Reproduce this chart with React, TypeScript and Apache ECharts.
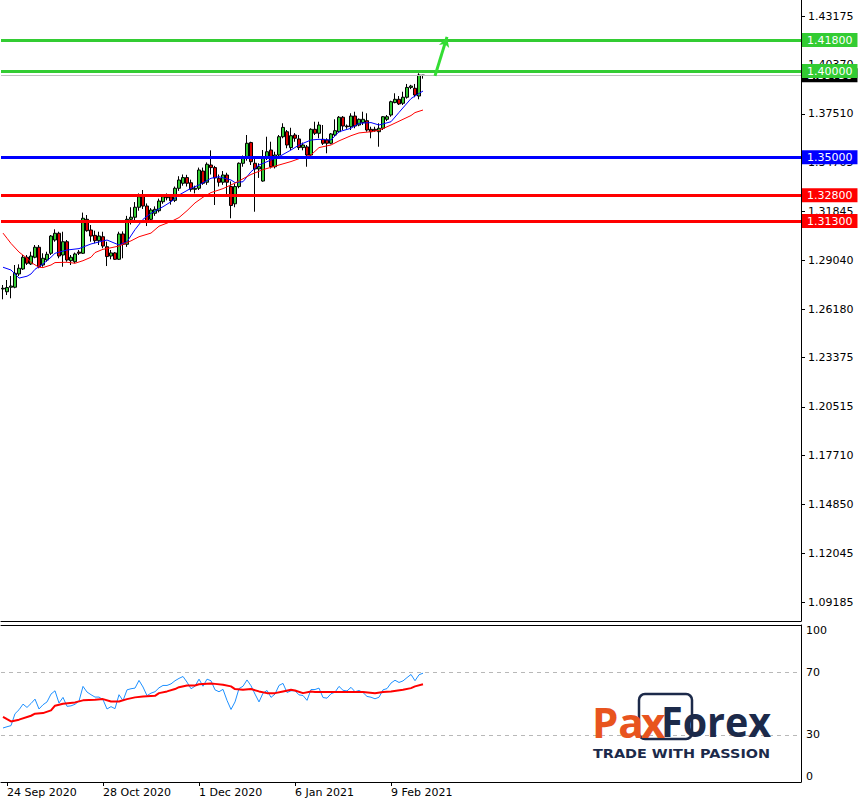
import React, { useEffect, useRef } from 'react';
import * as echarts from 'echarts';

// ---------- categories (trading days) ----------
const MONTHS = ['Jan', 'Feb', 'Mar', 'Apr', 'May', 'Jun', 'Jul', 'Aug', 'Sep', 'Oct', 'Nov', 'Dec'];
const HOLIDAYS = ['2020-12-25', '2021-01-01'];
const CATEGORY_COUNT = 200;
function buildCategories(): string[] {
  const out: string[] = [];
  const d = new Date(Date.UTC(2020, 8, 23));
  while (out.length < CATEGORY_COUNT) {
    const dow = d.getUTCDay();
    const iso = d.toISOString().slice(0, 10);
    if (dow !== 0 && dow !== 6 && !HOLIDAYS.includes(iso)) {
      out.push(`${d.getUTCDate()} ${MONTHS[d.getUTCMonth()]} ${d.getUTCFullYear()}`);
    }
    d.setUTCDate(d.getUTCDate() + 1);
  }
  return out;
}
const categories = buildCategories();
const xTickLabels = ['24 Sep 2020', '28 Oct 2020', '1 Dec 2020', '6 Jan 2021', '9 Feb 2021'];

// ---------- price axis ----------
const Y_MIN = 1.08102;
const Y_MAX = 1.4412;
const yTickValues = [1.43175, 1.4037, 1.3751, 1.34705, 1.31845, 1.2904, 1.2618, 1.23375, 1.20515, 1.1771, 1.1485, 1.12045, 1.09185];
const rsiTickValues = [0, 30, 70, 100];

// ---------- candles: [open, close, low, high] ----------
const candles: number[][] = [
  [1.2736, 1.2740, 1.2676, 1.2759], [1.2720, 1.2744, 1.2701, 1.2788], [1.2746, 1.2753, 1.2682, 1.2811],
  [1.2746, 1.2827, 1.2740, 1.2875], [1.2823, 1.2856, 1.2811, 1.2879], [1.2852, 1.2920, 1.2846, 1.2933],
  [1.2920, 1.2885, 1.2875, 1.2933], [1.2881, 1.2927, 1.2875, 1.2952], [1.2920, 1.2978, 1.2914, 1.2991],
  [1.2978, 1.2865, 1.2856, 1.2991], [1.2875, 1.2914, 1.2865, 1.2943], [1.2904, 1.2937, 1.2894, 1.2952],
  [1.2943, 1.3043, 1.2933, 1.3049], [1.3020, 1.3059, 1.3010, 1.3082], [1.3059, 1.2927, 1.2914, 1.3068],
  [1.2933, 1.3010, 1.2865, 1.3068], [1.3010, 1.2904, 1.2894, 1.3020], [1.2900, 1.2920, 1.2875, 1.2933],
  [1.2894, 1.2939, 1.2885, 1.2947], [1.2950, 1.2943, 1.2933, 1.2962], [1.2943, 1.3146, 1.2939, 1.3179],
  [1.3140, 1.3074, 1.3068, 1.3165], [1.3078, 1.3043, 1.3010, 1.3107], [1.3047, 1.3016, 1.3001, 1.3074],
  [1.3016, 1.3043, 1.2991, 1.3068], [1.3039, 1.2985, 1.2972, 1.3068], [1.2981, 1.2924, 1.2869, 1.3010],
  [1.2927, 1.2945, 1.2908, 1.2962], [1.2945, 1.2908, 1.2904, 1.2950], [1.2908, 1.3055, 1.2904, 1.3068],
  [1.3055, 1.2995, 1.2914, 1.3070], [1.2995, 1.3140, 1.2980, 1.3160], [1.3140, 1.3152, 1.3110, 1.3210],
  [1.3152, 1.3210, 1.3130, 1.3240], [1.3210, 1.3271, 1.3190, 1.3290], [1.3275, 1.3217, 1.3200, 1.3310],
  [1.3217, 1.3132, 1.3101, 1.3232], [1.3140, 1.3194, 1.3120, 1.3205], [1.3175, 1.3198, 1.3160, 1.3215],
  [1.3190, 1.3246, 1.3180, 1.3260], [1.3242, 1.3271, 1.3230, 1.3285], [1.3265, 1.3268, 1.3250, 1.3290],
  [1.3271, 1.3248, 1.3225, 1.3285], [1.3250, 1.3320, 1.3240, 1.3330], [1.3320, 1.3368, 1.3305, 1.3390],
  [1.3349, 1.3382, 1.3335, 1.3400], [1.3382, 1.3349, 1.3330, 1.3398], [1.3352, 1.3314, 1.3300, 1.3370],
  [1.3314, 1.3320, 1.3290, 1.3335], [1.3320, 1.3426, 1.3310, 1.3440], [1.3420, 1.3349, 1.3340, 1.3440],
  [1.3355, 1.3459, 1.3340, 1.3470], [1.3455, 1.3440, 1.3400, 1.3540], [1.3440, 1.3380, 1.3223, 1.3450],
  [1.3378, 1.3355, 1.3330, 1.3400], [1.3355, 1.3397, 1.3340, 1.3420], [1.3397, 1.3355, 1.3281, 1.3410],
  [1.3330, 1.3220, 1.3146, 1.3360], [1.3230, 1.3330, 1.3210, 1.3345], [1.3330, 1.3465, 1.3320, 1.3470],
  [1.3465, 1.3494, 1.3445, 1.3510], [1.3494, 1.3581, 1.3480, 1.3629], [1.3585, 1.3474, 1.3455, 1.3590],
  [1.3465, 1.3432, 1.3184, 1.3494], [1.3432, 1.3445, 1.3380, 1.3465], [1.3362, 1.3503, 1.3358, 1.3542],
  [1.3503, 1.3532, 1.3484, 1.3619], [1.3542, 1.3445, 1.3435, 1.3590], [1.3445, 1.3513, 1.3435, 1.3532],
  [1.3513, 1.3619, 1.3503, 1.3629], [1.3619, 1.3673, 1.3610, 1.3697], [1.3648, 1.3571, 1.3552, 1.3658],
  [1.3556, 1.3625, 1.3542, 1.3671], [1.3629, 1.3610, 1.3590, 1.3640], [1.3606, 1.3556, 1.3542, 1.3629],
  [1.3556, 1.3571, 1.3540, 1.3585], [1.3560, 1.3513, 1.3445, 1.3571], [1.3513, 1.3662, 1.3505, 1.3668],
  [1.3662, 1.3639, 1.3629, 1.3706], [1.3639, 1.3687, 1.3610, 1.3706], [1.3604, 1.3581, 1.3571, 1.3687],
  [1.3600, 1.3581, 1.3523, 1.3610], [1.3581, 1.3635, 1.3575, 1.3640], [1.3629, 1.3654, 1.3623, 1.3720],
  [1.3648, 1.3732, 1.3643, 1.3739], [1.3732, 1.3681, 1.3658, 1.3739], [1.3681, 1.3677, 1.3665, 1.3690],
  [1.3677, 1.3739, 1.3658, 1.3755], [1.3739, 1.3681, 1.3668, 1.3764], [1.3687, 1.3720, 1.3680, 1.3725],
  [1.3701, 1.3720, 1.3687, 1.3764], [1.3712, 1.3658, 1.3648, 1.3755], [1.3662, 1.3648, 1.3610, 1.3677],
  [1.3662, 1.3654, 1.3648, 1.3677], [1.3648, 1.3668, 1.3561, 1.3697], [1.3668, 1.3735, 1.3658, 1.3739],
  [1.3720, 1.3735, 1.3710, 1.3745], [1.3745, 1.3822, 1.3735, 1.3828], [1.3817, 1.3836, 1.3813, 1.3871],
  [1.3836, 1.3809, 1.3803, 1.3855], [1.3813, 1.3848, 1.3803, 1.3880], [1.3848, 1.3905, 1.3840, 1.3925],
  [1.3905, 1.3913, 1.3895, 1.3920], [1.3900, 1.3861, 1.3848, 1.3925], [1.3855, 1.3977, 1.3836, 1.3987],
  [1.3975, 1.3976, 1.3956, 1.3977],
];

// ---------- moving averages: [barIndex, value] ----------
const fastMA: number[][] = [
  [0, 1.2862], [2, 1.2846], [4, 1.2799], [6, 1.2810], [7, 1.2823], [8, 1.2850], [10, 1.2881], [12, 1.2920],
  [13, 1.2943], [16, 1.2962], [19, 1.2970], [22, 1.2997], [26, 1.3020], [29, 1.2991], [31, 1.3010], [33, 1.3080],
  [35, 1.3140], [37, 1.3175], [40, 1.3213], [42, 1.3242], [44, 1.3281], [47, 1.3320], [49, 1.3339], [52, 1.3378],
  [54, 1.3387], [57, 1.3368], [58, 1.3353], [60, 1.3358], [62, 1.3416], [64, 1.3455], [67, 1.3484], [69, 1.3503],
  [72, 1.3542], [74, 1.3571], [77, 1.3600], [79, 1.3604], [82, 1.3600], [84, 1.3648], [87, 1.3668], [89, 1.3697],
  [92, 1.3701], [94, 1.3687], [97, 1.3706], [99, 1.3760], [102, 1.3840], [104, 1.3870], [105, 1.3884],
];
const slowMA: number[][] = [
  [0, 1.3060], [1, 1.3030], [2, 1.3000], [4, 1.2950], [6, 1.2914], [7, 1.2890], [9, 1.2862], [10, 1.2860],
  [12, 1.2875], [13, 1.2889], [16, 1.2891], [18, 1.2885], [20, 1.2900], [22, 1.2920], [23, 1.2947], [25, 1.2966],
  [27, 1.2975], [29, 1.2985], [32, 1.3015], [34, 1.3039], [37, 1.3060], [39, 1.3100], [42, 1.3127], [44, 1.3150],
  [46, 1.3190], [48, 1.3235], [50, 1.3268], [52, 1.3295], [55, 1.3318], [58, 1.3350], [62, 1.3400], [65, 1.3428],
  [69, 1.3455], [72, 1.3475], [75, 1.3500], [77, 1.3513], [79, 1.3556], [82, 1.3571], [84, 1.3595], [87, 1.3625],
  [89, 1.3641], [92, 1.3648], [94, 1.3656], [97, 1.3687], [99, 1.3709], [102, 1.3742], [103, 1.3759], [105, 1.3774],
];

// ---------- RSI ----------
const rsi = [
  34.4, 35.2, 35.9, 43.5, 46.0, 49.6, 47.5, 50.0, 52.8, 46.5,
  49.2, 51.0, 56.0, 58.1, 50.3, 53.9, 48.2, 48.5, 49.5, 51.5,
  60.9, 57.3, 55.6, 54.1, 54.1, 52.4, 46.5, 48.0, 46.7, 55.6,
  51.8, 58.7, 59.4, 59.8, 64.7, 60.5, 55.0, 56.6, 57.5, 60.0,
  61.5, 61.5, 62.5, 64.5, 66.0, 67.2, 63.6, 59.4, 61.0, 65.5,
  61.0, 65.5, 64.5, 58.7, 57.5, 59.0, 52.0, 46.2, 51.0, 59.5,
  61.0, 65.0, 61.3, 56.0, 51.0, 56.6, 58.3, 53.9, 56.0, 61.5,
  62.8, 57.0, 58.1, 58.1, 55.5, 55.1, 52.0, 58.9, 58.9, 59.8,
  53.8, 53.4, 56.2, 57.2, 60.9, 58.4, 58.0, 60.3, 57.5, 58.3,
  57.0, 54.5, 54.0, 53.0, 54.0, 58.7, 59.5, 63.0, 64.8, 63.4,
  64.4, 66.5, 68.5, 64.5, 68.3, 69.3,
];
const rsiMA: number[][] = [
  [0, 41.5], [1, 40.0], [2, 38.6], [4, 39.7], [7, 42.2], [8, 43.5], [10, 43.9], [12, 45.6], [13, 48.6],
  [15, 49.9], [18, 50.7], [20, 52.0], [23, 52.4], [25, 52.8], [27, 51.3], [29, 51.3], [31, 52.8], [33, 53.9],
  [35, 54.5], [38, 54.9], [39, 56.6], [41, 57.7], [43, 59.2], [44, 60.4], [46, 61.5], [48, 61.5], [49, 62.3],
  [52, 62.8], [53, 62.5], [55, 61.9], [57, 60.9], [58, 59.2], [60, 58.7], [62, 59.2], [64, 57.7], [66, 56.6],
  [68, 56.6], [70, 57.7], [72, 58.7], [73, 58.3], [75, 56.6], [77, 57.7], [78, 57.3], [85, 57.3], [90, 57.3],
  [93, 56.6], [95, 57.3], [97, 57.7], [100, 58.7], [102, 59.8], [103, 60.9], [105, 62.3],
];

// ---------- levels ----------
const levelPrices = [1.313, 1.328, 1.35, 1.4, 1.418];
const levelColors = ['#ff0000', '#ff0000', '#0000ff', '#33cc33', '#33cc33'];
const currentPrice = 1.3975;
const arrowStart = [108, 1.3972];
const arrowEnd = [111, 1.4198];

const NAVY = '#1c2a4a';
const ORANGE = '#e8541e';
const FONT = '"DejaVu Sans", Tahoma, sans-serif';

export default function App() {
  const ref = useRef<HTMLDivElement>(null);
  useEffect(() => {
    if (!ref.current) return;
    const chart = echarts.init(ref.current, undefined, { renderer: 'svg' });
    const showTick = (_i: number, v: string) => xTickLabels.includes(v);

    const option: any = {
      animation: false,
      backgroundColor: '#ffffff',
      textStyle: { fontFamily: FONT },
      grid: [
        { left: 1, right: 62, top: 0, height: 621 },
        { left: 1, right: 62, top: 625, height: 157 },
      ],
      xAxis: [
        {
          type: 'category', gridIndex: 0, data: categories, boundaryGap: true,
          axisLine: { show: true, onZero: false, lineStyle: { color: '#000', width: 1 } },
          axisTick: { show: false }, axisLabel: { show: false }, splitLine: { show: false },
        },
        {
          type: 'category', gridIndex: 1, data: categories, position: 'bottom', boundaryGap: true,
          axisLine: { show: true, onZero: false, lineStyle: { color: '#000', width: 1 } },
          axisTick: { show: true, alignWithLabel: true, interval: showTick, length: 4, lineStyle: { color: '#000' } },
          axisLabel: { interval: showTick, align: 'left', color: '#000', fontSize: 11, margin: 5, fontFamily: FONT },
          splitLine: { show: false },
        },
        {
          type: 'category', gridIndex: 1, data: categories, position: 'top', boundaryGap: true,
          axisLine: { show: true, onZero: false, lineStyle: { color: '#000', width: 1 } },
          axisTick: { show: false }, axisLabel: { show: false }, splitLine: { show: false },
        },
      ],
      yAxis: [
        {
          type: 'value', gridIndex: 0, position: 'right', min: Y_MIN, max: Y_MAX,
          axisLine: { show: true, lineStyle: { color: '#000', width: 1 } },
          axisTick: { show: true, length: 4, customValues: yTickValues, lineStyle: { color: '#000' } },
          axisLabel: {
            customValues: yTickValues, formatter: (v: number) => v.toFixed(5),
            color: '#000', fontSize: 11, margin: 7, fontFamily: FONT,
          },
          splitLine: { show: false },
        },
        {
          type: 'value', gridIndex: 1, position: 'right', min: 0, max: 100,
          axisLine: { show: true, lineStyle: { color: '#000', width: 1 } },
          axisTick: { show: false },
          axisLabel: {
            customValues: rsiTickValues, color: '#000', fontSize: 11, margin: 5, fontFamily: FONT,
            verticalAlignMaxLabel: 'top', verticalAlignMinLabel: 'bottom',
          },
          splitLine: { show: false },
        },
      ],
      series: [
        {
          type: 'candlestick', name: 'price', xAxisIndex: 0, yAxisIndex: 0, data: candles, barWidth: 3,
          itemStyle: { color: '#33cc33', color0: '#e00000', borderColor: '#000', borderColor0: '#000', borderColorDoji: '#000', borderWidth: 1 },
          markLine: {
            silent: true, symbol: ['none', 'none'], animation: false, precision: 5,
            label: { show: true, position: 'end', distance: 1, color: '#fff', fontSize: 11, padding: [2, 5, 1, 5], fontFamily: FONT },
            data: [
              {
                yAxis: currentPrice, lineStyle: { color: '#c0c0c0', width: 1, type: 'solid' },
                label: { backgroundColor: '#000', formatter: currentPrice.toFixed(5) },
              },
              ...levelPrices.map((p, k) => ({
                yAxis: p, lineStyle: { color: levelColors[k], width: 3, type: 'solid' },
                label: { backgroundColor: levelColors[k], formatter: p.toFixed(5) },
              })),
            ],
          },
        },
        {
          type: 'line', name: 'fast', xAxisIndex: 0, yAxisIndex: 0, data: fastMA, showSymbol: false, symbol: 'none',
          lineStyle: { color: '#0000ff', width: 1 }, z: 3,
        },
        {
          type: 'line', name: 'slow', xAxisIndex: 0, yAxisIndex: 0, data: slowMA, showSymbol: false, symbol: 'none',
          lineStyle: { color: '#ff0000', width: 1 }, z: 3,
        },
        {
          type: 'line', name: 'arrow', xAxisIndex: 0, yAxisIndex: 0, data: [],
          markLine: {
            silent: true, symbol: ['none', 'arrow'], symbolSize: [8, 10], animation: false, precision: 5,
            label: { show: false },
            lineStyle: { color: '#33dd33', width: 3, type: 'solid' },
            data: [[
              { coord: [categories[arrowStart[0]], arrowStart[1]] },
              { coord: [categories[arrowEnd[0]], arrowEnd[1]] },
            ]],
          },
        },
        {
          type: 'line', name: 'rsi', xAxisIndex: 1, yAxisIndex: 1, data: rsi, showSymbol: false, symbol: 'none',
          lineStyle: { color: '#1e90ff', width: 1 },
          markLine: {
            silent: true, symbol: ['none', 'none'], label: { show: false }, animation: false,
            lineStyle: { color: '#b8b8b8', type: [4, 4], width: 1 },
            data: [{ yAxis: 30 }, { yAxis: 70 }],
          },
        },
        {
          type: 'line', name: 'rsiMA', xAxisIndex: 1, yAxisIndex: 1, data: rsiMA, showSymbol: false, symbol: 'none',
          lineStyle: { color: '#ff0000', width: 2 }, z: 3,
        },
      ],
      graphic: [
        {
          type: 'rect', z: 100, shape: { x: 639, y: 694, width: 53, height: 45, r: 6 },
          style: { fill: 'none', stroke: NAVY, lineWidth: 2.5 },
        },
        {
          type: 'text', z: 101, x: 592, y: 721,
          style: { text: 'Pa', fill: ORANGE, font: `700 42px "Open Sans"`, textAlign: 'left', textVerticalAlign: 'middle' },
        },
        {
          type: 'text', z: 101, x: 641, y: 721,
          style: { text: 'x', fill: ORANGE, font: `700 42px "Open Sans"`, textAlign: 'left', textVerticalAlign: 'middle' },
        },
        {
          type: 'text', z: 101, x: 661, y: 721, scaleX: 0.94,
          style: { text: 'Forex', fill: NAVY, font: `700 42px "Open Sans"`, textAlign: 'left', textVerticalAlign: 'middle' },
        },
        {
          type: 'text', z: 101, x: 593, y: 754, scaleX: 1.2,
          style: { text: 'TRADE WITH PASSION', fill: NAVY, font: `bold 12px "DejaVu Sans"`, textAlign: 'left', textVerticalAlign: 'middle' },
        },
      ],
    };
    chart.setOption(option);
    return () => chart.dispose();
  }, []);
  return <div ref={ref} style={{ position: 'absolute', left: 0, top: 0, width: 863, height: 801, background: '#fff' }} />;
}
